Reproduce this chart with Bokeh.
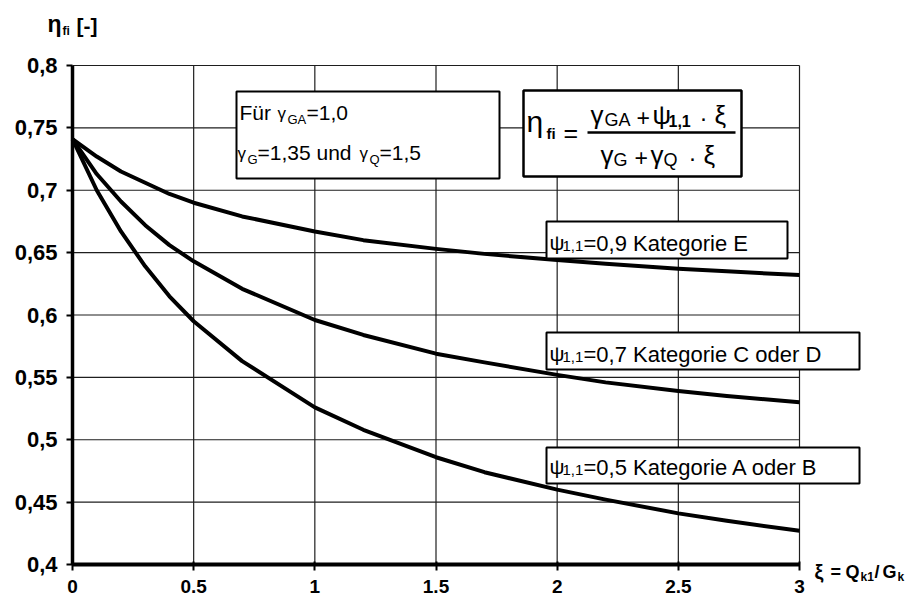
from bokeh.plotting import figure
from bokeh.models import Range1d, FixedTicker
from bokeh.core.properties import value
from bokeh.embed import file_html
from bokeh.resources import INLINE

# ---------------- data ----------------
xi = [0, 0.1, 0.2, 0.3, 0.4, 0.5, 0.7, 1.0, 1.2, 1.5, 1.7, 2.0, 2.2, 2.5, 2.7, 3.0]
eta_psi09 = [0.741, 0.727, 0.715, 0.706, 0.697, 0.690, 0.679, 0.667, 0.660, 0.653,
             0.649, 0.644, 0.641, 0.637, 0.635, 0.632]
eta_psi07 = [0.741, 0.713, 0.691, 0.672, 0.656, 0.643, 0.621, 0.596, 0.584, 0.569,
             0.562, 0.552, 0.546, 0.539, 0.535, 0.530]
eta_psi05 = [0.741, 0.700, 0.667, 0.639, 0.615, 0.595, 0.563, 0.526, 0.508, 0.486,
             0.474, 0.460, 0.452, 0.441, 0.435, 0.427]

psi_labels = ["=0,9 Kategorie E", "=0,7 Kategorie C oder D", "=0,5 Kategorie A oder B"]

x_ticks = [0, 0.5, 1, 1.5, 2, 2.5, 3]
x_labels = ["0", "0.5", "1", "1.5", "2", "2.5", "3"]
y_ticks = [0.4, 0.45, 0.5, 0.55, 0.6, 0.65, 0.7, 0.75, 0.8]
y_labels = ["0,4", "0,45", "0,5", "0,55", "0,6", "0,65", "0,7", "0,75", "0,8"]

# ---------------- layout helpers (window pixel -> data) ----------------
W, H = 922, 601
X0, PXX = 72.0, 727.0 / 3.0      # window x of xi=0, px per unit xi
Y0, PXY = 65.0, 499.0 / 0.4      # window y of eta=0.8, px per unit eta
TXT_SHIFT = 0.33                 # baseline correction (fraction of font size)


def dx(X):
    return (X - X0) / PXX


def dy(Y):
    return 0.8 - (Y - Y0) / PXY


FONT = value("Liberation Sans")

p = figure(width=W, height=H,
           x_range=Range1d(dx(0), dx(W)), y_range=Range1d(dy(H), dy(0)),
           output_backend="svg", toolbar_location=None, min_border=0)
p.outline_line_color = None
p.xgrid.visible = False
p.ygrid.visible = False
p.background_fill_color = "white"
p.border_fill_color = "white"

# axes placed inside the frame
p.xaxis.fixed_location = y_ticks[0]
p.yaxis.fixed_location = x_ticks[0]
p.xaxis.bounds = (x_ticks[0], x_ticks[-1])
p.yaxis.bounds = (y_ticks[0], y_ticks[-1])
p.xaxis.ticker = FixedTicker(ticks=x_ticks)
p.yaxis.ticker = FixedTicker(ticks=y_ticks)
p.xaxis.major_label_overrides = {t: l for t, l in zip(x_ticks, x_labels)}
p.yaxis.major_label_overrides = {t: l for t, l in zip(y_ticks, y_labels)}
for ax in (p.xaxis, p.yaxis):
    ax.axis_line_color = "black"
    ax.major_tick_line_color = "black"
    ax.major_tick_line_width = 2
    ax.minor_tick_line_color = None
    ax.major_label_text_font = "Liberation Sans"
    ax.major_label_text_font_style = "bold"
    ax.major_label_text_color = "black"
p.xaxis.axis_line_width = 4
p.yaxis.axis_line_width = 3.5
p.xaxis.major_tick_in = 3
p.xaxis.major_tick_out = 6
p.yaxis.major_tick_in = 0
p.yaxis.major_tick_out = 6
p.xaxis.major_label_text_font_size = "19px"
p.yaxis.major_label_text_font_size = "22px"
p.xaxis.major_label_standoff = 9
p.yaxis.major_label_standoff = 9

# grid lines (from tick values)
p.segment(x0=[x_ticks[0]] * (len(y_ticks) - 1), x1=[x_ticks[-1]] * (len(y_ticks) - 1),
          y0=y_ticks[1:], y1=y_ticks[1:], line_color="#1e1e1e", line_width=1.2)
p.segment(x0=x_ticks[1:], x1=x_ticks[1:],
          y0=[y_ticks[0]] * (len(x_ticks) - 1), y1=[y_ticks[-1]] * (len(x_ticks) - 1),
          line_color="#1e1e1e", line_width=1.2)

# curves
for ys in (eta_psi09, eta_psi07, eta_psi05):
    p.line(xi, ys, line_color="black", line_width=4, line_join="round")


def box(L, R, T, B, lw=2):
    p.quad(left=[dx(L)], right=[dx(R)], top=[dy(T)], bottom=[dy(B)],
           fill_color="white", line_color="black", line_width=lw)


def txt(X, Y, s, size, bold=False):
    p.text(x=[dx(X)], y=[dy(Y - TXT_SHIFT * size)], text=[s], text_font=FONT,
           text_font_size=f"{size}px", text_font_style="bold" if bold else "normal",
           text_baseline="alphabetic", text_align="left", text_color="black")


# info box
box(236, 499, 91, 178)
txt(239, 119, "Für", 21)
txt(277, 119, "γ", 17)
txt(287, 123, "GA", 13)
txt(306, 119, "=1,0", 21)
txt(237, 159, "γ", 17)
txt(247, 163, "G", 13)
txt(257, 159, "=1,35 und", 21)
txt(359, 159, "γ", 17)
txt(369, 163, "Q", 13)
txt(379, 159, "=1,5", 21)

# formula box
box(523, 741, 90, 176, lw=2.5)
txt(526, 131, "η", 30)
txt(546, 138, "fi", 15, bold=True)
txt(563, 141, "=", 25)
p.segment(x0=[dx(587)], x1=[dx(735)], y0=[dy(132)], y1=[dy(132)],
          line_color="black", line_width=2.5)
# numerator
txt(590, 123, "γ", 26)
txt(604, 125, "GA", 18)
txt(636, 125, "+", 23)
txt(652, 123, "ψ", 26)
txt(668, 126, "1,1", 16, bold=True)
txt(699, 125, "·", 24)
txt(714, 123, "ξ", 26)
# denominator
txt(600, 163, "γ", 26)
txt(613, 165, "G", 18)
txt(634, 165, "+", 23)
txt(650, 163, "γ", 26)
txt(663, 165, "Q", 18)
txt(688, 165, "·", 24)
txt(703, 163, "ξ", 26)

# curve label boxes
label_boxes = [(546, 787, 221, 258, 250), (546, 859, 332, 369, 361), (546, 859, 447, 483, 474)]
for (L, R, T, B, base), lab in zip(label_boxes, psi_labels):
    box(L, R, T, B)
    txt(549, base - 1, "ψ", 21)
    txt(562, base, "1,1", 15)
    txt(583, base, lab, 22)

# axis titles
txt(47, 31, "η", 23, bold=True)
txt(62, 34, "fi", 12, bold=True)
txt(76, 32, "[-]", 21, bold=True)

txt(814, 578, "ξ", 20, bold=True)
txt(830, 577, "=", 18, bold=True)
txt(845, 577, "Q", 18, bold=True)
txt(860, 580, "k1", 12, bold=True)
txt(874, 577, "/", 18, bold=True)
txt(882, 577, "G", 18, bold=True)
txt(897, 580, "k", 12, bold=True)

open("out.html", "w").write(file_html(p, INLINE))
